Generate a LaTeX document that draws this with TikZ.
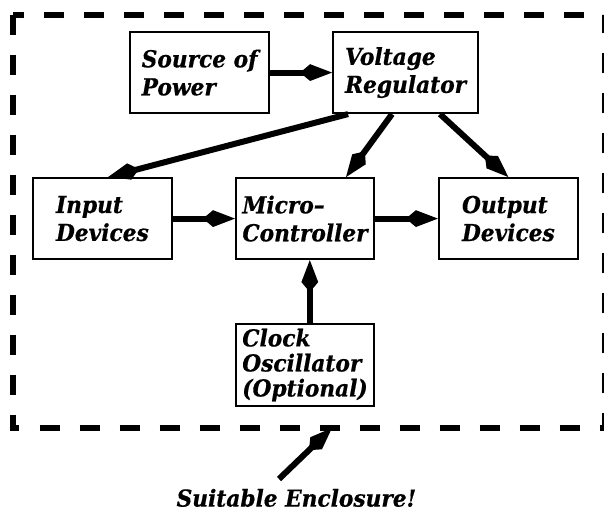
\documentclass[tikz,border=0pt]{standalone}
\usepackage{fontspec}
\setmainfont[FakeStretch=0.93, FakeBold=0.6]{DejaVu Serif}
\usepackage{tikz}
\usetikzlibrary{arrows.meta}

\begin{document}
\begin{tikzpicture}[scale=1.0,
    box/.style={draw, line width=0.05cm, inner sep=0pt, align=left,
      font=\fontsize{16.6}{19.9}\selectfont\bfseries\itshape},
    conn/.style={line width=0.15cm,
      -{Kite[length=0.8cm, width=0.42cm, inset=0.25cm]}},
    lbl/.style={inner sep=0pt, font=\fontsize{16.6}{19.9}\selectfont\bfseries\itshape}]
    \useasboundingbox (0,0) rectangle (15.1,12.825);

    % Enclosure (dashed)
    \draw[line width=0.15cm, dash pattern=on 0.5cm off 0.5cm]
      (0.3125,12.45) -- (0.3125,2.125) -- (15.125,2.125) -- (15.125,12.45) -- cycle;

    % Blocks
    \node[box, minimum width=3.475cm, minimum height=2.025cm] (src) at (4.99,11.01) {Source of\\Power};
    \node[box, minimum width=3.625cm, minimum height=2.025cm] (vr) at (10.14,11.01) {Voltage\\Regulator};
    \node[box, minimum width=3.475cm, minimum height=2.025cm] (in) at (2.56,7.36) {Input\\Devices};
    \node[box, minimum width=3.45cm, minimum height=2.025cm] (mc) at (7.625,7.36) {Micro–\\Controller};
    \node[box, minimum width=3.475cm, minimum height=2.025cm] (out) at (12.71,7.36) {Output\\Devices};
    \node[box, minimum width=3.45cm, minimum height=2.05cm,
      font=\fontsize{16.6}{17.8}\selectfont\bfseries\itshape] (clk) at (7.625,3.7) {Clock\\Oscillator\\(Optional)};

    % Connections
    \draw[conn] (src) -- (vr);
    \draw[conn] ([xshift=0.4cm]vr.south west) -- ([xshift=0.14cm]in.north);
    \draw[conn] ([xshift=-0.34cm]vr.south) -- ([xshift=-0.725cm]mc.north east);
    \draw[conn] ([xshift=0.86cm]vr.south) -- (out.north);
    \draw[conn] (in) -- (mc);
    \draw[conn] (mc) -- (out);
    \draw[conn] ([xshift=0.12cm]clk.north) -- ([xshift=0.12cm]mc.south);

    % Label for the enclosure
    \node[lbl, anchor=base] (encl) at (7.41,0.16) {Suitable Enclosure!};
    \coordinate (encl-tail) at (6.975,0.85);
    \coordinate (encl-tip) at (8.3,2.125);
    \draw[conn] (encl-tail) -- (encl-tip);
\end{tikzpicture}
\end{document}
